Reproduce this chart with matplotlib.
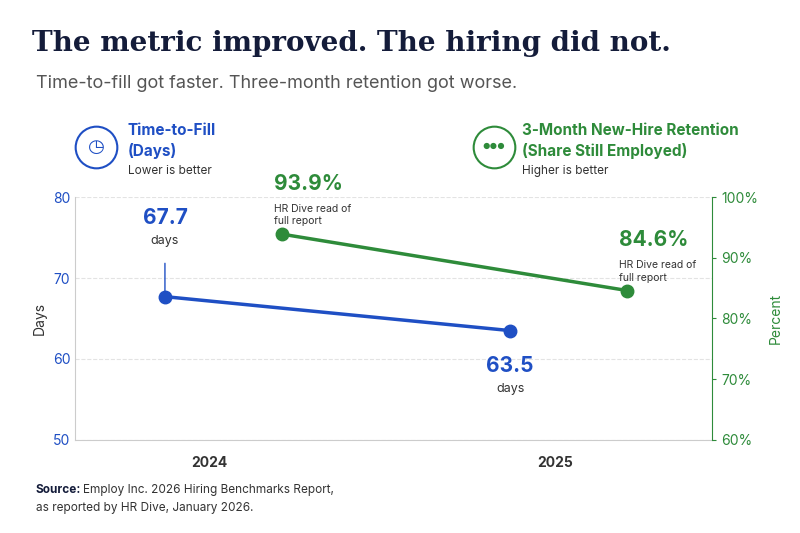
import matplotlib.pyplot as plt
from matplotlib.lines import Line2D
import numpy as np

years = ["2024", "2025"]
fill_days = [67.7, 63.5]
retention = [93.9, 84.6]

BLUE = "#1f4fc4"
GREEN = "#2e8b3a"
GREY = "#333333"

plt.rcParams["font.family"] = ["Inter", "DejaVu Sans"]

fig = plt.figure(figsize=(8, 5.33), dpi=100)
ax = fig.add_axes([0.094, 0.175, 0.796, 0.455])
ax2 = ax.twinx()

x = np.arange(len(years))
xb = x - 0.13
xg = x + 0.21

ax.plot(xb, fill_days, color=BLUE, lw=2.5, marker="o", ms=9, zorder=3)
ax2.plot(xg, retention, color=GREEN, lw=2.5, marker="o", ms=9, zorder=3)

ax.set_xlim(-0.39, 1.455)
ax.set_ylim(50, 80)
ax2.set_ylim(60, 100)
ax.set_yticks([50, 60, 70, 80])
ax2.set_yticks([60, 70, 80, 90, 100])
ax2.set_yticklabels([f"{v}%" for v in [60, 70, 80, 90, 100]])
ax.set_xticks(x)
ax.set_xticklabels(years, fontsize=10, fontweight="bold", color=GREY)
ax.tick_params(axis="x", length=0, pad=12)
ax.tick_params(axis="y", colors=BLUE, labelsize=10, length=0)
ax2.tick_params(axis="y", colors=GREEN, labelsize=10, length=3)
ax.grid(axis="y", color="#e3e3e3", ls="--", lw=0.8)
for s in ["top", "right", "left"]:
    ax.spines[s].set_visible(False)
    ax2.spines[s].set_visible(False)
ax2.spines["right"].set_visible(True)
ax2.spines["right"].set_color(GREEN)
ax.spines["left"].set_visible(True)
ax.spines["left"].set_color("#cccccc")
ax2.spines["bottom"].set_visible(False)
ax.spines["bottom"].set_color("#cccccc")
ax.set_ylabel("Days", fontsize=10, color=GREY)
ax2.set_ylabel("Percent", fontsize=10, color=GREEN, labelpad=8)

# blue labels
ax.annotate(f"{fill_days[0]}", (xb[0], fill_days[0]), xytext=(0, 52), textcoords="offset points",
            ha="center", fontsize=15, fontweight="bold", color=BLUE)
ax.annotate("days", (xb[0], fill_days[0]), xytext=(0, 38), textcoords="offset points",
            ha="center", fontsize=9, color=GREY)
ax.annotate("", (xb[0], fill_days[0]), xytext=(0, 26), textcoords="offset points",
            arrowprops=dict(arrowstyle="-", color=BLUE, lw=1))
ax.annotate(f"{fill_days[1]}", (xb[1], fill_days[1]), xytext=(0, -30), textcoords="offset points",
            ha="center", fontsize=15, fontweight="bold", color=BLUE)
ax.annotate("days", (xb[1], fill_days[1]), xytext=(0, -44), textcoords="offset points",
            ha="center", fontsize=9, color=GREY)
# green labels
for xi, v in zip(xg, retention):
    ax2.annotate(f"{v}%", (xi, v), xytext=(-6, 32), textcoords="offset points",
                 ha="left", fontsize=15, fontweight="bold", color=GREEN)
    ax2.annotate("HR Dive read of\nfull report", (xi, v), xytext=(-6, 7), textcoords="offset points",
                 ha="left", fontsize=7.5, color=GREY, linespacing=1.3)

fig.text(0.04, 0.905, "The metric improved. The hiring did not.", fontsize=20,
         fontweight="bold", color="#141c3a", family=["DejaVu Serif"])
fig.text(0.045, 0.835, "Time-to-fill got faster. Three-month retention got worse.",
         fontsize=13, color="#555555")

# legend headers
fig.add_artist(Line2D([0.12], [0.725], marker="o", ms=30, mfc="none", mec=BLUE, mew=1.5,
                      transform=fig.transFigure))
fig.text(0.12, 0.725, "◷", ha="center", va="center", fontsize=14, color=BLUE)
fig.text(0.16, 0.735, "Time-to-Fill\n(Days)", fontsize=11, fontweight="bold", color=BLUE,
         va="center", linespacing=1.4)
fig.text(0.16, 0.68, "Lower is better", fontsize=8.5, color=GREY, va="center")
fig.add_artist(Line2D([0.617], [0.725], marker="o", ms=30, mfc="none", mec=GREEN, mew=1.5,
                      transform=fig.transFigure))
fig.text(0.617, 0.725, "●●●", ha="center", va="center", fontsize=6, color=GREEN)
fig.text(0.652, 0.735, "3-Month New-Hire Retention\n(Share Still Employed)", fontsize=11,
         fontweight="bold", color=GREEN, va="center", linespacing=1.4)
fig.text(0.652, 0.68, "Higher is better", fontsize=8.5, color=GREY, va="center")

fig.text(0.045, 0.075, "Source:", fontsize=8.5, fontweight="bold", color="#141c3a")
fig.text(0.104, 0.075, "Employ Inc. 2026 Hiring Benchmarks Report,", fontsize=8.5, color=GREY)
fig.text(0.045, 0.042, "as reported by HR Dive, January 2026.", fontsize=8.5, color=GREY)

fig.savefig("out.png", dpi=100)
